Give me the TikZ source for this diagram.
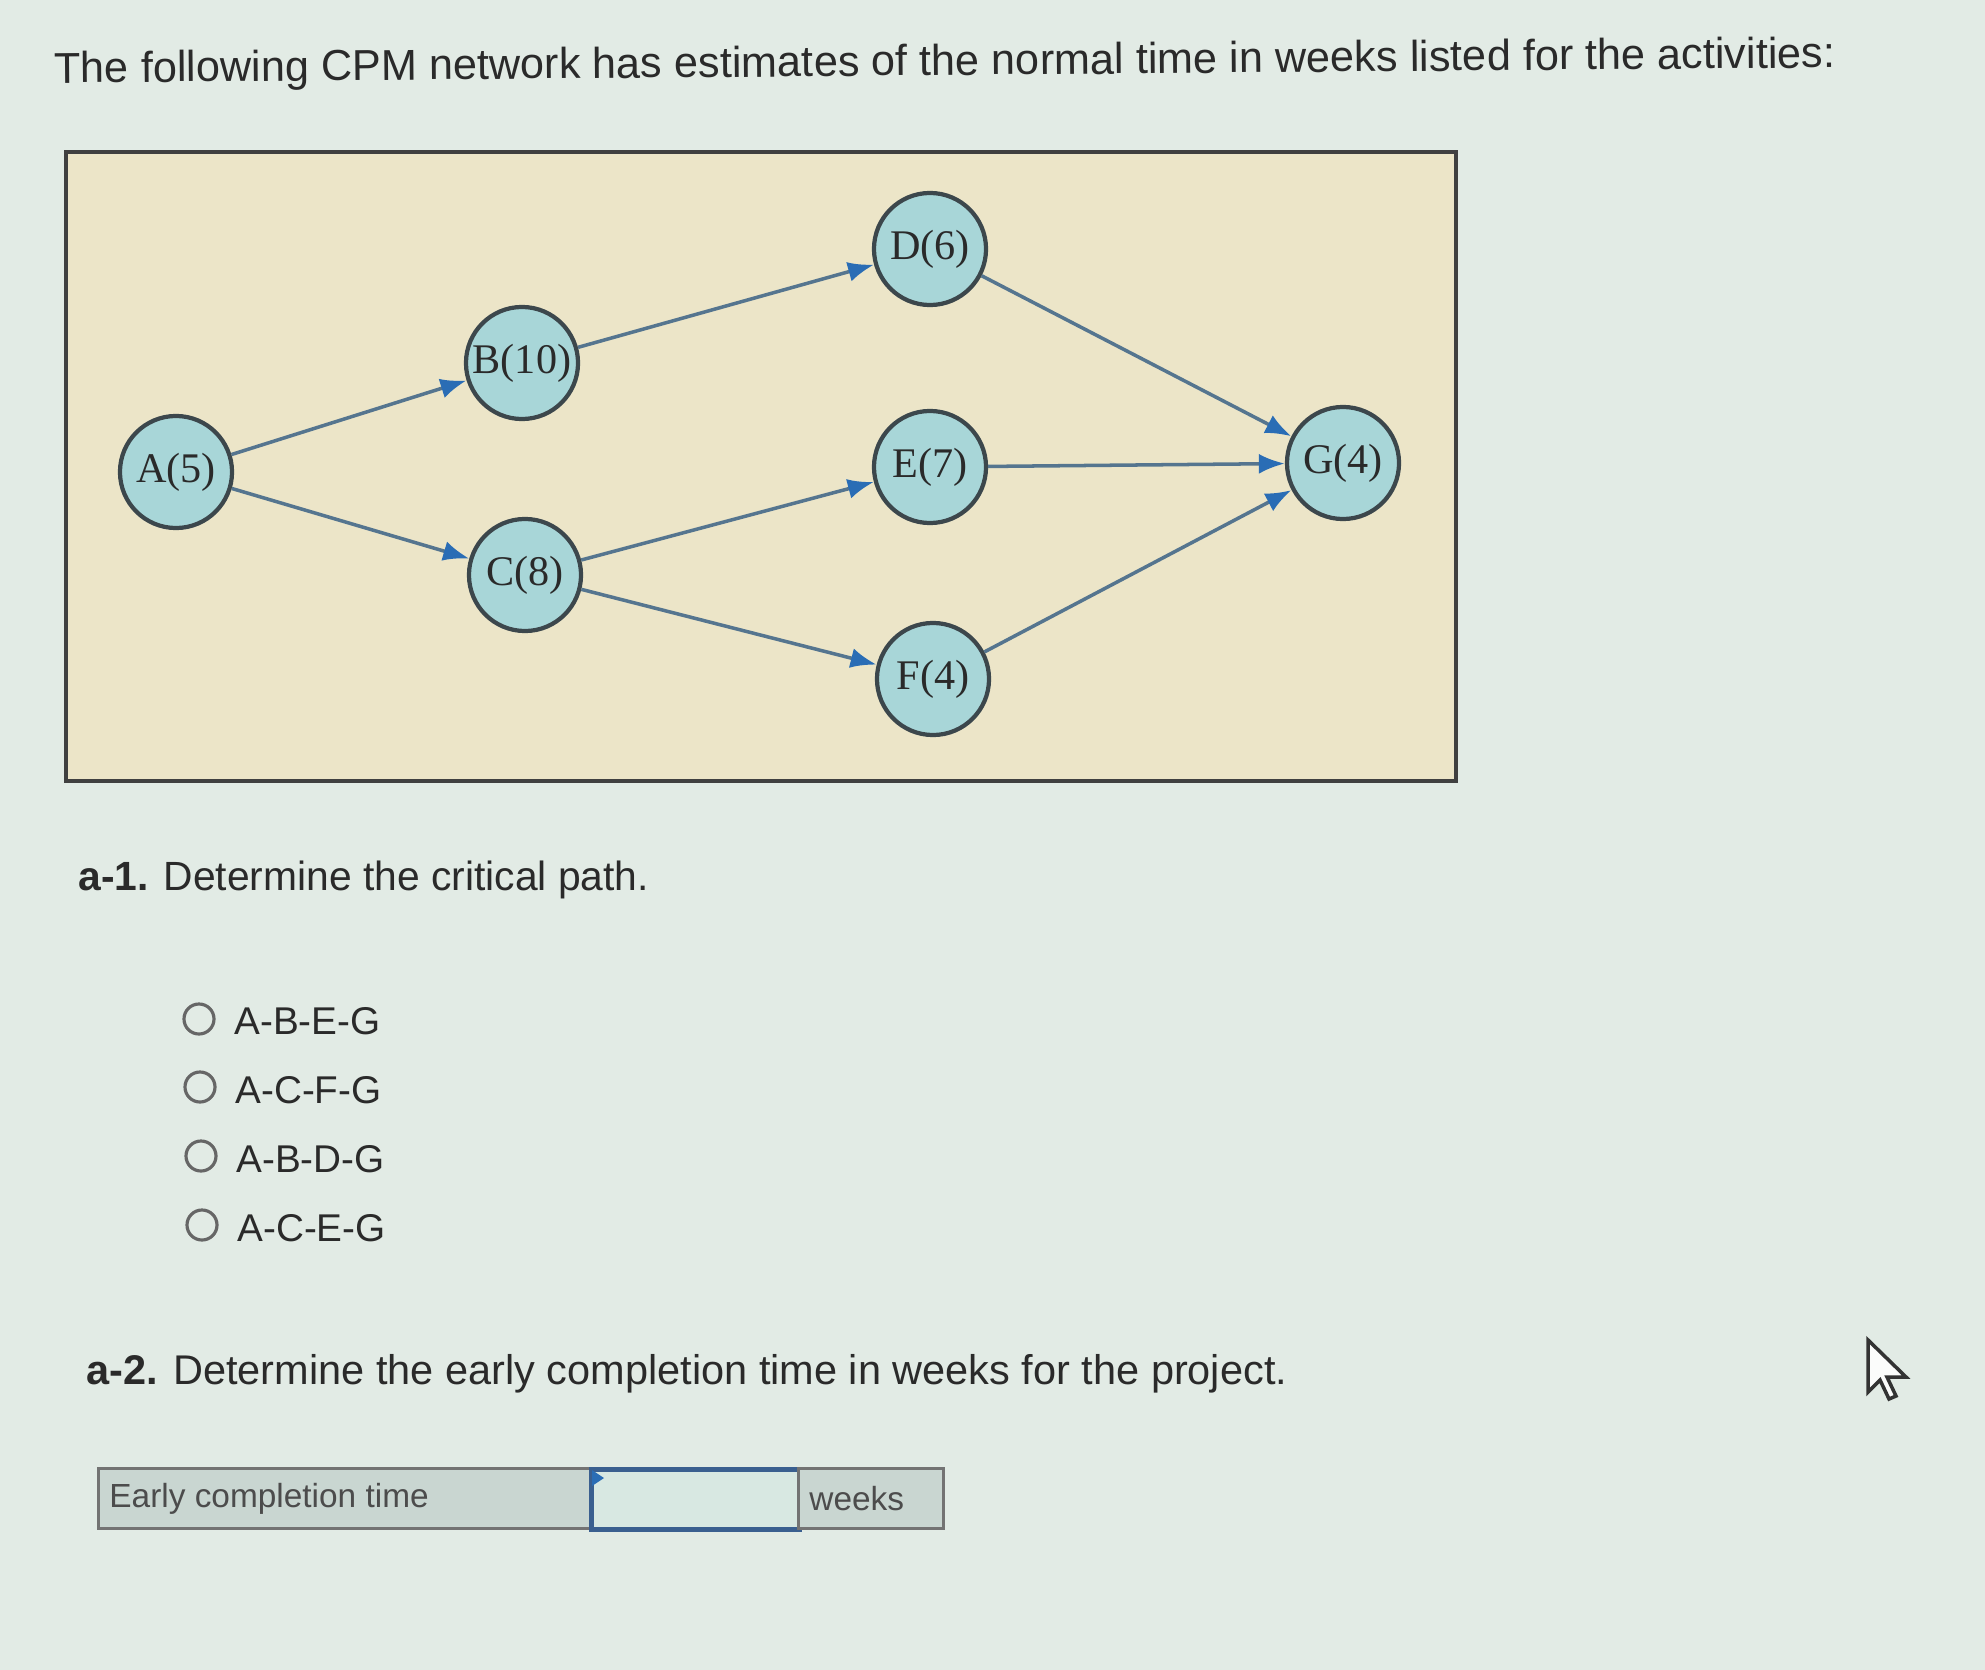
\documentclass[tikz,border=0pt]{standalone}
\usepackage{fontspec}
\setmainfont{Liberation Sans}
\newfontfamily\nodefont{Liberation Serif}
\usetikzlibrary{arrows.meta}
\definecolor{pagebg}{HTML}{E2EBE5}
\definecolor{boxbg}{HTML}{ECE5C8}
\definecolor{nodefill}{HTML}{A8D6D8}
\definecolor{nodeline}{HTML}{3C474C}
\definecolor{edgecol}{HTML}{55758F}
\definecolor{tipcol}{HTML}{2A6DB5}
\definecolor{txt}{HTML}{2A2A2A}
\definecolor{cellbg}{HTML}{C9D6D1}
\definecolor{inputbg}{HTML}{D8E8E2}
\definecolor{inputline}{HTML}{3A5F8F}
\tikzset{
  act/.style={circle,draw=nodeline,line width=1.2pt,fill=nodefill,minimum size=1.12cm,inner sep=0pt,
    font=\nodefont\fontsize{12}{14}\selectfont,text=txt},
  edge/.style={draw=edgecol,line width=1pt,-{Latex[length=0.26cm,width=0.2cm,color=tipcol]}},
  radio/.style={circle,draw=black!60,line width=0.9pt,minimum size=0.3cm,inner sep=0pt},
  opt/.style={anchor=west,font=\fontsize{11}{13}\selectfont,text=txt},
  txtline/.style={anchor=west,text=txt},
  cell/.style={draw=black!55,line width=0.8pt,anchor=north west,inner sep=0pt}
}
\begin{document}
\begin{tikzpicture}[x=0.01cm,y=-0.01cm]
\fill[pagebg] (0,0) rectangle (1985,1670);
\useasboundingbox (0,0) rectangle (1985,1670);
% title
\node[txtline,font=\fontsize{12.3}{15}\selectfont,rotate=0.5] (title) at (42,72)
  {The following CPM network has estimates of the normal time in weeks listed for the activities:};
% diagram frame
\draw[fill=boxbg,draw=black!75,line width=1.3pt] (66,152) rectangle (1456,781);
\node[act] (A) at (176,472) {A(5)};
\node[act] (B) at (522,363) {B(10)};
\node[act] (C) at (525,575) {C(8)};
\node[act] (D) at (930,249) {D(6)};
\node[act] (E) at (930,467) {E(7)};
\node[act] (F) at (933,679) {F(4)};
\node[act] (G) at (1343,463) {G(4)};
\draw[edge] (A) -- (B);
\draw[edge] (A) -- (C);
\draw[edge] (B) -- (D);
\draw[edge] (C) -- (E);
\draw[edge] (C) -- (F);
\draw[edge] (D) -- (G);
\draw[edge] (E) -- (G);
\draw[edge] (F) -- (G);
% a-1
\node[txtline,font=\fontsize{11.6}{14}\selectfont] (q1) at (66,880) {\textbf{a-1.} Determine the critical path.};
\node[radio] (r1) at (199,1019) {};
\node[radio] (r2) at (200,1087) {};
\node[radio] (r3) at (201,1156) {};
\node[radio] (r4) at (202,1225) {};
\node[opt] (o1) at (222,1021) {A-B-E-G};
\node[opt] (o2) at (223,1090) {A-C-F-G};
\node[opt] (o3) at (224,1159) {A-B-D-G};
\node[opt] (o4) at (225,1228) {A-C-E-G};
% a-2
\node[txtline,font=\fontsize{11.8}{14}\selectfont] (q2) at (74,1374) {\textbf{a-2.} Determine the early completion time in weeks for the project.};
% answer row
\node[cell,fill=cellbg,minimum width=4.92cm,minimum height=0.6cm] (lab) at (97,1467) {};
\node[txtline,font=\fontsize{9.5}{11}\selectfont,text=black!70] (labt) at (lab.west) {Early completion time};
\node[cell,fill=inputbg,draw=inputline,line width=1.3pt,minimum width=2.08cm,minimum height=0.6cm] (inp) at (589,1467) {};
\fill[tipcol] (inp.north west) ++(3,3) -- ++(12,8) -- ++(-12,8) -- cycle;
\node[cell,fill=cellbg,minimum width=1.45cm,minimum height=0.6cm] (wk) at (797,1467) {};
\node[txtline,font=\fontsize{9.5}{11}\selectfont,text=black!70] (wkt) at (wk.west) {weeks};
% mouse cursor
\draw[fill=white!85!pagebg,draw=black!80,line width=1pt,line join=miter]
  (1868,1340) -- (1868,1392) -- (1880,1380) -- (1889,1399) -- (1896,1396) -- (1887,1377) -- (1906,1377) -- cycle;
\end{tikzpicture}
\end{document}
